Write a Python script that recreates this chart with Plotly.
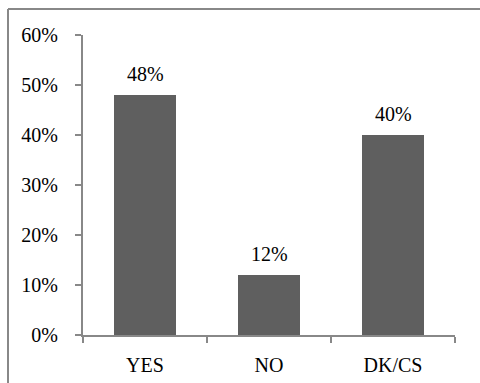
import plotly.graph_objects as go

categories = ["YES", "NO", "DK/CS"]
values = [48, 12, 40]
labels = ["48%", "12%", "40%"]
y_ticks = [0, 10, 20, 30, 40, 50, 60]
y_ticktext = ["0%", "10%", "20%", "30%", "40%", "50%", "60%"]

W, H = 480, 383
L, R, T, B = 83, 25, 35, 48
pw = W - L - R
ph = H - T - B

font = dict(family="Liberation Serif, Times New Roman, serif", size=20, color="black")

fig = go.Figure()
fig.add_trace(go.Bar(x=categories, y=values, marker=dict(color="#5f5f5f", line=dict(width=0)),
                     width=0.5, hoverinfo="skip"))

for c, v, t in zip(categories, values, labels):
    fig.add_annotation(x=c, y=v, text=t, showarrow=False, yanchor="bottom", yshift=8, font=font)

axis_col = "#888888"
fig.update_layout(
    width=W, height=H,
    margin=dict(l=L, r=R, t=T, b=B, autoexpand=False),
    paper_bgcolor="white", plot_bgcolor="white",
    showlegend=False,
    font=font,
    xaxis=dict(type="category", showline=True, linecolor=axis_col, linewidth=2,
               ticks="outside", tickson="boundaries", ticklen=6, tickcolor=axis_col, tickwidth=2,
               showgrid=False, zeroline=False, tickfont=font, ticklabelstandoff=11,
               range=[-0.5, 2.5], automargin=False),
    yaxis=dict(range=[0, 60], tickvals=y_ticks, ticktext=y_ticktext, showline=True,
               linecolor=axis_col, linewidth=2, ticks="outside", ticklen=6, tickcolor=axis_col,
               tickwidth=2, showgrid=False, zeroline=False, tickfont=font, ticklabelstandoff=13,
               automargin=False),
)

# outer frame (left and top edges visible)
x0 = (8 - L) / pw
y_top = 1 + (T - 9) / ph
fig.add_shape(type="line", xref="paper", yref="paper", x0=x0, x1=x0, y0=-(B + 5) / ph, y1=y_top,
              line=dict(color=axis_col, width=2))
fig.add_shape(type="line", xref="paper", yref="paper", x0=x0, x1=1 + (R + 5) / pw, y0=y_top, y1=y_top,
              line=dict(color=axis_col, width=2))

fig.write_html("out.html")
